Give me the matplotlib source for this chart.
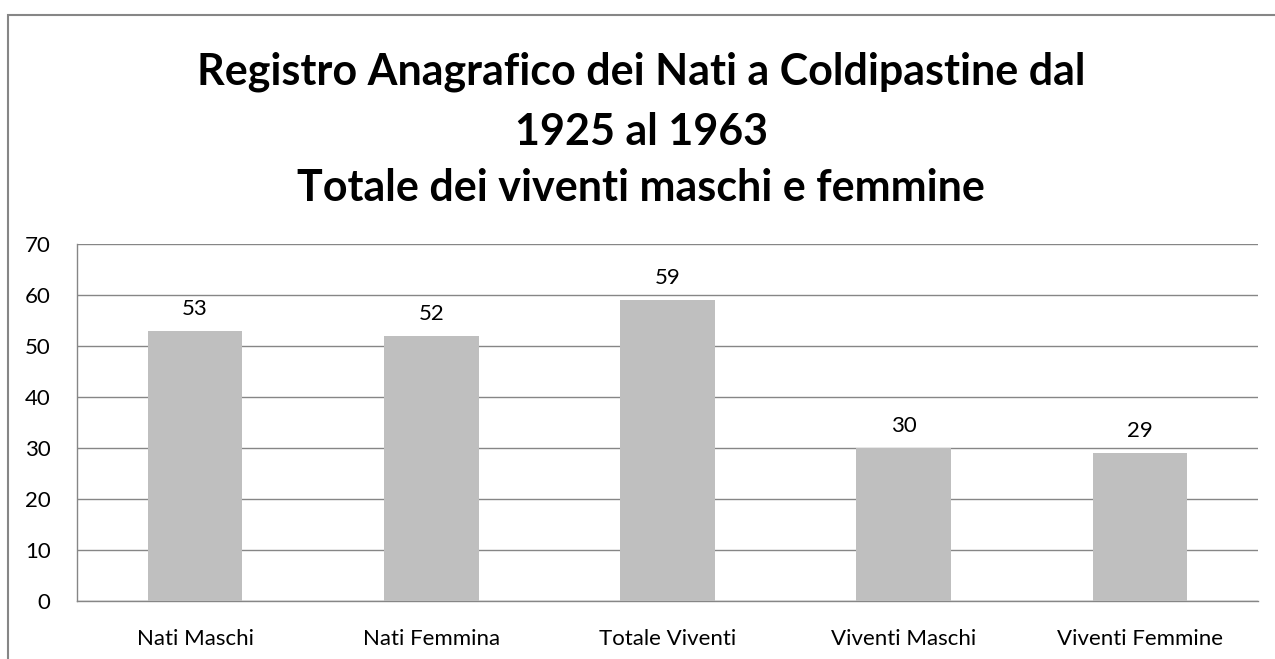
import matplotlib.pyplot as plt
from matplotlib.patches import Rectangle

# data
categories = ['Nati Maschi', 'Nati Femmina', 'Totale Viventi', 'Viventi Maschi', 'Viventi Femmine']
values = [53, 52, 59, 30, 29]
yticks = [0, 10, 20, 30, 40, 50, 60, 70]

title_lines = ['Registro Anagrafico dei Nati a Coldipastine dal',
               '1925 al 1963',
               'Totale dei viventi maschi e femmine']

plt.rcParams['font.family'] = ['Lato', 'DejaVu Sans']

W, H = 1275, 659
fig = plt.figure(figsize=(W / 100, H / 100), dpi=100)

# outer frame of the chart area (only left and top visible)
fig.patches.append(Rectangle((8 / W, -0.1), 1.2, (H - 15) / H + 0.1, transform=fig.transFigure,
                             fill=False, edgecolor='#868686', linewidth=1.5))

ax = fig.add_axes([77 / W, (H - 601) / H, (1258 - 77) / W, (601 - 244) / H])

x = range(len(categories))
bars = ax.bar(x, values, width=0.4, color='#BFBFBF', zorder=3)
for b, v in zip(bars, values):
    ax.text(b.get_x() + b.get_width() / 2, v + 2.3, str(v), ha='center', va='bottom', fontsize=16)

ax.set_xlim(-0.5, len(categories) - 0.5)
ax.set_ylim(0, 70)
ax.set_yticks(yticks)
ax.set_xticks(list(x))
ax.set_xticklabels(categories)
ax.tick_params(axis='both', length=0, labelsize=16)
ax.tick_params(axis='y', pad=19)
ax.tick_params(axis='x', pad=20)
ax.yaxis.grid(True, color='#868686', linewidth=1, zorder=0)

for s in ['top', 'right']:
    ax.spines[s].set_visible(False)
for s in ['left', 'bottom']:
    ax.spines[s].set_color('#868686')
    ax.spines[s].set_linewidth(1)

ys = [72, 132, 188]
for line, yy in zip(title_lines, ys):
    fig.text(0.503, 1 - yy / H, line, ha='center', va='center', fontsize=31, fontweight='bold')

fig.savefig('out.png', dpi=100)
